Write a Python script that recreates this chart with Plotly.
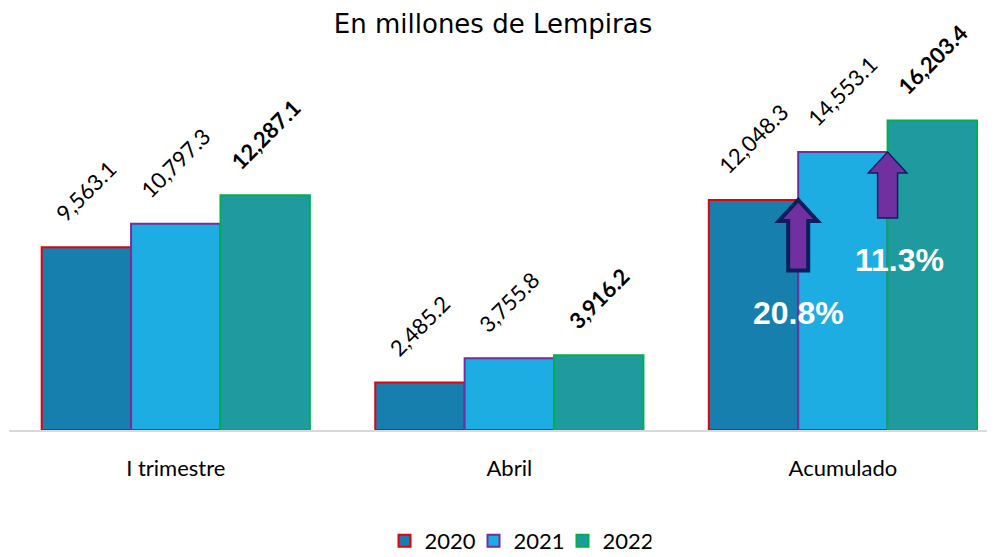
import plotly.graph_objects as go

categories = ["I trimestre", "Abril", "Acumulado"]
years = ["2020", "2021", "2022"]
values_2020 = [9563.1, 2485.2, 12048.3]
values_2021 = [10797.3, 3755.8, 14553.1]
values_2022 = [12287.1, 3916.2, 16203.4]

fill_colors = ["#177FAE", "#1EADE3", "#1F9BA0"]
line_colors = ["#E3000F", "#7030A0", "#00B050"]

series = [values_2020, values_2021, values_2022]

# page has an 8px body margin; figure is sized to fill the 995x557 window
W, H = 987, 549
OFF = 8

bar_w = 0.804 / 3

fig = go.Figure()
for i, (yr, vals) in enumerate(zip(years, series)):
    fig.add_trace(go.Bar(
        name=yr, x=categories, y=vals,
        marker=dict(color=fill_colors[i], line=dict(color=line_colors[i], width=2)),
    ))
    for ci, v in enumerate(vals):
        txt = f"{v:,.1f}"
        if i == 2:
            txt = f"<b>{txt}</b>"
        fig.add_annotation(x=ci + (i - 1) * bar_w, y=v, xref="x", yref="y",
                           text=txt, textangle=-45, showarrow=False,
                           xanchor="center", yanchor="bottom", yshift=18,
                           font=dict(family="Lato", size=22, color="black"))

# growth arrows in Acumulado group
acc_idx = 2
group_left = acc_idx - 0.402
arrow_specs = [
    # (x center, tip value, head height, length, outline width)
    (group_left + bar_w, values_2020[acc_idx], 1100, 3700, 4),
    (group_left + 2 * bar_w, values_2021[acc_idx], 1100, 3450, 1.5),
]
head_half = 0.058
shaft_half = 0.03
for xc, tip, hh, length, lw in arrow_specs:
    base = tip - length
    hb = tip - hh
    path = (f"M {xc - shaft_half} {base} L {xc - shaft_half} {hb} L {xc - head_half} {hb} "
            f"L {xc} {tip} L {xc + head_half} {hb} L {xc + shaft_half} {hb} "
            f"L {xc + shaft_half} {base} Z")
    fig.add_shape(type="path", path=path, xref="x", yref="y",
                  fillcolor="#7030A0", line=dict(color="#0B1F5C", width=lw))

growth1 = (values_2021[acc_idx] / values_2020[acc_idx] - 1) * 100
growth2 = (values_2022[acc_idx] / values_2021[acc_idx] - 1) * 100
fig.add_annotation(x=group_left + bar_w, y=6150, xref="x", yref="y",
                   text=f"<b>{growth1:.1f}%</b>", showarrow=False,
                   font=dict(family="Liberation Sans", size=32, color="white"))
fig.add_annotation(x=group_left + 2 * bar_w + 0.037, y=8900, xref="x", yref="y",
                   text=f"<b>{growth2:.1f}%</b>", showarrow=False,
                   font=dict(family="Liberation Sans", size=32, color="white"))

fig.update_layout(
    width=W, height=H,
    paper_bgcolor="white", plot_bgcolor="white",
    margin=dict(l=9 - OFF, r=0, t=48 - OFF, b=H - (430 - OFF), autoexpand=False),
    barmode="group", bargap=0.196, bargroupgap=0,
    title=dict(text="En millones de Lempiras", x=(493 - OFF) / W, xanchor="center",
               y=1 - (24 - OFF) / H, yanchor="middle", yref="container",
               font=dict(family="DejaVu Sans", size=26, color="black")),
    showlegend=True,
    legend=dict(orientation="h", x=(518 - OFF) / W, xanchor="center", xref="container",
                y=(H - (541 - OFF)) / H, yanchor="middle", yref="container",
                font=dict(family="Lato", size=22, color="black"),
                itemwidth=30, entrywidth=44, entrywidthmode="pixels",
                traceorder="normal"),
    xaxis=dict(range=[-0.5, 2.456], showline=True, linecolor="#D9D9D9", linewidth=2,
               ticks="", ticklabelstandoff=18, automargin=False,
               tickfont=dict(family="Lato", size=22, color="black"),
               showgrid=False, zeroline=False),
    yaxis=dict(range=[0, 20000], showticklabels=False, showgrid=False, zeroline=False,
               showline=False, automargin=False),
)

fig.write_html("out.html")
